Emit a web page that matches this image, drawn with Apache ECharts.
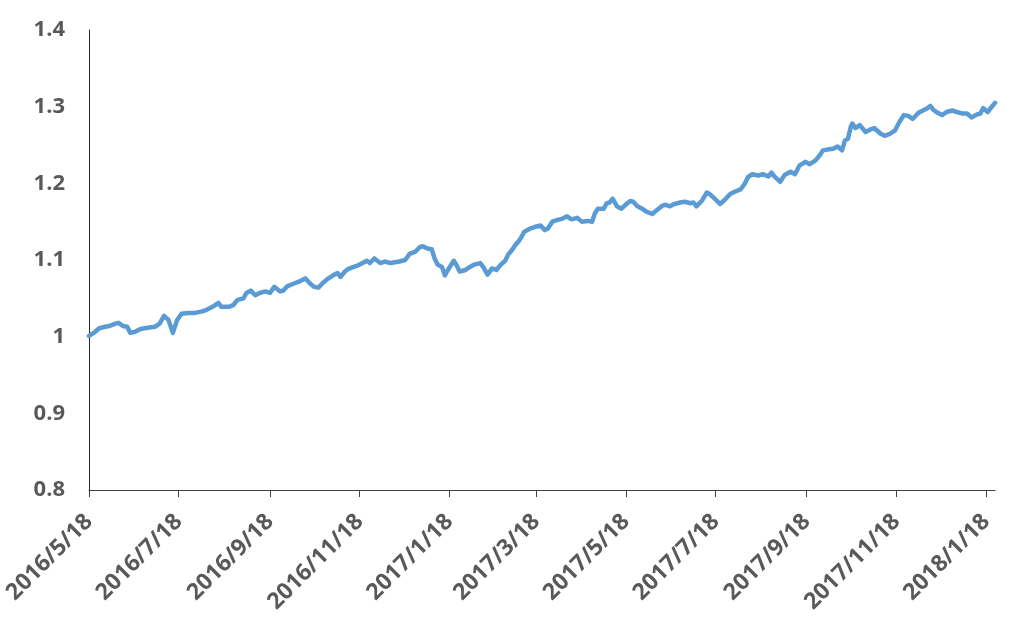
<!DOCTYPE html>
<html>
<head>
<meta charset="utf-8">
<script src="https://cdn.jsdelivr.net/npm/echarts@6/dist/echarts.min.js"></script>
<style>
  html, body { margin: 0; padding: 0; background: #fff; }
  #chart { width: 1032px; height: 633px; }
</style>
</head>
<body>
<div id="chart"></div>
<script>
const tickLabels = ['2016/5/18','2016/7/18','2016/9/18','2016/11/18','2017/1/18','2017/3/18','2017/5/18','2017/7/18','2017/9/18','2017/11/18','2018/1/18'];
const yTicks = [0.8, 0.9, 1.0, 1.1, 1.2, 1.3, 1.4];

const dates = [
'2016-05-18','2016-05-22','2016-05-25','2016-05-29','2016-06-01','2016-06-05','2016-06-07','2016-06-10','2016-06-13','2016-06-15',
'2016-06-18','2016-06-22','2016-06-25','2016-06-28','2016-07-02','2016-07-05','2016-07-08','2016-07-11','2016-07-14','2016-07-17',
'2016-07-20','2016-07-24','2016-07-29','2016-08-03','2016-08-06','2016-08-10','2016-08-14','2016-08-16','2016-08-21','2016-08-24',
'2016-08-27','2016-08-31','2016-09-02','2016-09-05','2016-09-08','2016-09-11','2016-09-15','2016-09-18','2016-09-21','2016-09-25',
'2016-09-27','2016-09-30','2016-10-04','2016-10-08','2016-10-12','2016-10-15','2016-10-18','2016-10-21','2016-10-24','2016-10-27',
'2016-10-31','2016-11-03','2016-11-05','2016-11-08','2016-11-10','2016-11-14','2016-11-17','2016-11-20','2016-11-23','2016-11-25',
'2016-11-28','2016-12-02','2016-12-05','2016-12-09','2016-12-12','2016-12-15','2016-12-19','2016-12-22','2016-12-26','2016-12-29',
'2016-12-31','2017-01-03','2017-01-06','2017-01-08','2017-01-10','2017-01-13','2017-01-15','2017-01-17','2017-01-21','2017-01-23',
'2017-01-25','2017-01-29','2017-02-01','2017-02-04','2017-02-08','2017-02-10','2017-02-13','2017-02-16','2017-02-19','2017-02-22',
'2017-02-25','2017-02-27','2017-03-02','2017-03-04','2017-03-06','2017-03-08','2017-03-10','2017-03-14','2017-03-17','2017-03-21',
'2017-03-24','2017-03-26','2017-03-29','2017-04-01','2017-04-05','2017-04-08','2017-04-11','2017-04-15','2017-04-18','2017-04-22',
'2017-04-25','2017-04-27','2017-04-29','2017-05-03','2017-05-05','2017-05-07','2017-05-09','2017-05-12','2017-05-15','2017-05-19',
'2017-05-21','2017-05-23','2017-05-26','2017-05-29','2017-06-01','2017-06-05','2017-06-08','2017-06-12','2017-06-14','2017-06-17',
'2017-06-20','2017-06-24','2017-06-27','2017-07-01','2017-07-03','2017-07-05','2017-07-09','2017-07-12','2017-07-14','2017-07-18',
'2017-07-21','2017-07-24','2017-07-28','2017-07-31','2017-08-04','2017-08-07','2017-08-09','2017-08-12','2017-08-16','2017-08-19',
'2017-08-23','2017-08-25','2017-08-27','2017-08-31','2017-09-03','2017-09-07','2017-09-10','2017-09-13','2017-09-17','2017-09-20',
'2017-09-24','2017-09-27','2017-09-29','2017-10-02','2017-10-06','2017-10-09','2017-10-12','2017-10-14','2017-10-16','2017-10-18',
'2017-10-19','2017-10-21','2017-10-24','2017-10-28','2017-10-31','2017-11-03','2017-11-07','2017-11-10','2017-11-14','2017-11-17',
'2017-11-20','2017-11-23','2017-11-26','2017-11-29','2017-12-03','2017-12-06','2017-12-09','2017-12-11','2017-12-13','2017-12-16',
'2017-12-19','2017-12-22','2017-12-26','2017-12-29','2018-01-02','2018-01-05','2018-01-08','2018-01-12','2018-01-14','2018-01-16',
'2018-01-19','2018-01-21','2018-01-24'
];
const values = [
1.001,1.006,1.011,1.013,1.014,1.017,1.018,1.014,1.013,1.005,
1.006,1.010,1.011,1.012,1.013,1.017,1.027,1.022,1.005,1.022,
1.030,1.031,1.031,1.033,1.035,1.039,1.044,1.039,1.039,1.041,
1.048,1.050,1.057,1.060,1.054,1.057,1.059,1.057,1.065,1.059,
1.060,1.066,1.069,1.072,1.076,1.070,1.065,1.064,1.070,1.075,
1.080,1.083,1.078,1.085,1.088,1.091,1.093,1.096,1.099,1.096,
1.102,1.096,1.098,1.096,1.097,1.098,1.100,1.108,1.111,1.117,
1.118,1.115,1.114,1.102,1.094,1.091,1.080,1.087,1.099,1.093,
1.085,1.087,1.091,1.094,1.096,1.091,1.081,1.089,1.087,1.094,
1.099,1.107,1.114,1.120,1.124,1.130,1.137,1.141,1.143,1.145,
1.139,1.141,1.150,1.152,1.154,1.157,1.153,1.155,1.150,1.151,
1.150,1.161,1.167,1.167,1.174,1.175,1.180,1.170,1.167,1.174,
1.177,1.176,1.170,1.167,1.163,1.160,1.165,1.171,1.172,1.170,
1.173,1.175,1.176,1.174,1.175,1.170,1.178,1.188,1.186,1.179,
1.173,1.178,1.186,1.189,1.192,1.200,1.208,1.212,1.210,1.212,
1.209,1.214,1.209,1.202,1.211,1.215,1.212,1.223,1.228,1.225,
1.230,1.237,1.243,1.244,1.245,1.248,1.243,1.256,1.258,1.274,
1.278,1.272,1.276,1.267,1.270,1.272,1.265,1.262,1.265,1.269,
1.280,1.289,1.288,1.284,1.292,1.295,1.298,1.301,1.296,1.292,
1.289,1.293,1.295,1.293,1.291,1.291,1.286,1.290,1.291,1.298,
1.293,1.298,1.305
];

const DAY = 86400000;
function parseSlash(s) { const p = s.split('/').map(Number); return Date.UTC(p[0], p[1]-1, p[2]) / DAY; }
function parseDash(s) { const p = s.split('-').map(Number); return Date.UTC(p[0], p[1]-1, p[2]) / DAY; }
const tickValues = tickLabels.map(parseSlash);
const seriesData = dates.map((d, i) => [parseDash(d), values[i]]);

const chart = echarts.init(document.getElementById('chart'));
const labelFont = { fontFamily: 'Open Sans', fontWeight: 'bold', fontSize: 22, color: '#595959' };
chart.setOption({
  animation: false,
  backgroundColor: '#ffffff',
  grid: { left: 89, right: 37, top: 30, bottom: 143, containLabel: false },
  xAxis: {
    type: 'value',
    scale: true,
    min: tickValues[0],
    max: seriesData[seriesData.length - 1][0],
    axisLine: { show: true, lineStyle: { color: '#404040', width: 1 } },
    axisTick: { show: true, length: 7, customValues: tickValues, lineStyle: { color: '#404040' } },
    splitLine: { show: false },
    axisLabel: Object.assign({
      customValues: tickValues,
      rotate: 45,
      margin: 28,
      formatter: function (v) {
        const i = tickValues.indexOf(v);
        return i >= 0 ? tickLabels[i] : '';
      }
    }, labelFont, { fontSize: 23 })
  },
  yAxis: {
    type: 'value',
    min: yTicks[0],
    max: yTicks[yTicks.length - 1],
    interval: 0.1,
    axisLine: { show: true, lineStyle: { color: '#262626', width: 1 } },
    axisTick: { show: false },
    splitLine: { show: false },
    axisLabel: Object.assign({
      margin: 24,
      formatter: function (v) { return String(Math.round(v * 10) / 10); }
    }, labelFont)
  },
  series: [{
    type: 'line',
    data: seriesData,
    showSymbol: false,
    symbol: 'none',
    lineStyle: { color: '#5B9BD5', width: 4.5, join: 'round', cap: 'round' },
    itemStyle: { color: '#5B9BD5' }
  }]
});
</script>
</body>
</html>
